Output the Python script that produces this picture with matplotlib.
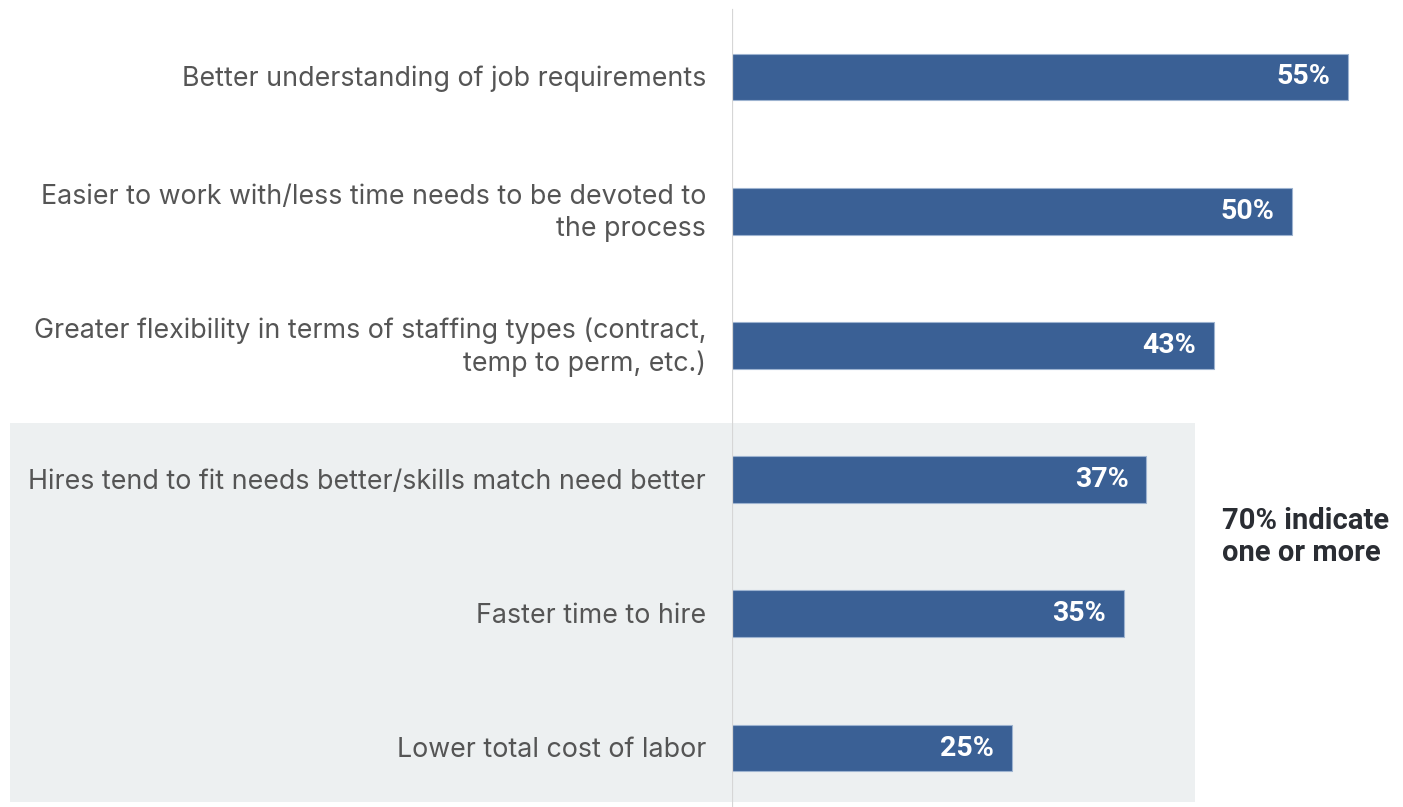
import matplotlib.pyplot as plt
from matplotlib.patches import Rectangle
from matplotlib.transforms import blended_transform_factory

categories = [
    "Better understanding of job requirements",
    "Easier to work with/less time needs to be devoted to\nthe process",
    "Greater flexibility in terms of staffing types (contract,\ntemp to perm, etc.)",
    "Hires tend to fit needs better/skills match need better",
    "Faster time to hire",
    "Lower total cost of labor",
]
values = [55, 50, 43, 37, 35, 25]
callout = "70% indicate\none or more"

BAR = "#3a6095"
EDGE = "#9db3d0"
SHADE = "#edf0f1"
LABEL = "#555555"

W, H = 1403, 807
fig = plt.figure(figsize=(W / 100, H / 100), dpi=100)
ax = fig.add_axes([732 / W, 0, 1 - 732 / W, 1])
ax.set_facecolor("none")

y = list(range(len(values)))
ax.barh(y, values, height=0.35, color=BAR, edgecolor=EDGE, linewidth=0.8, zorder=3)
ax.set_xlim(0, (W - 732) / 11.2)
ax.set_ylim(5 + (H - 748) / 134.2, -77 / 134.2)
ax.axis("off")

# light band behind the lower group of answers
band = blended_transform_factory(fig.transFigure, ax.transData)
ax.add_patch(Rectangle((10 / W, 2.575), (1195 - 10) / W, 2.825, transform=band,
                       facecolor=SHADE, edgecolor="none", clip_on=False, zorder=0))

ax.axvline(0, ymin=0, ymax=1 - 10 / H, color="#d6d6d6", lw=1.6, zorder=4)

for yi, cat, v in zip(y, categories, values):
    ax.annotate(cat, (0, yi), xytext=(-26, -2), textcoords="offset pixels",
                ha="right", va="center", fontsize=19.3, color=LABEL,
                family="Inter", linespacing=1.3)
    ax.annotate(f"{v}%", (v, yi), xytext=(-18, 0), textcoords="offset pixels",
                ha="right", va="center", fontsize=20.5, color="white",
                family="Roboto", fontweight="bold", zorder=5)

fig.text(1222 / W, 1 - 537 / H, callout, ha="left", va="center", fontsize=21,
         color="#2a2d33", family="Roboto", fontweight="bold", linespacing=1.15)

fig.savefig("out.png", dpi=100, facecolor="white")
